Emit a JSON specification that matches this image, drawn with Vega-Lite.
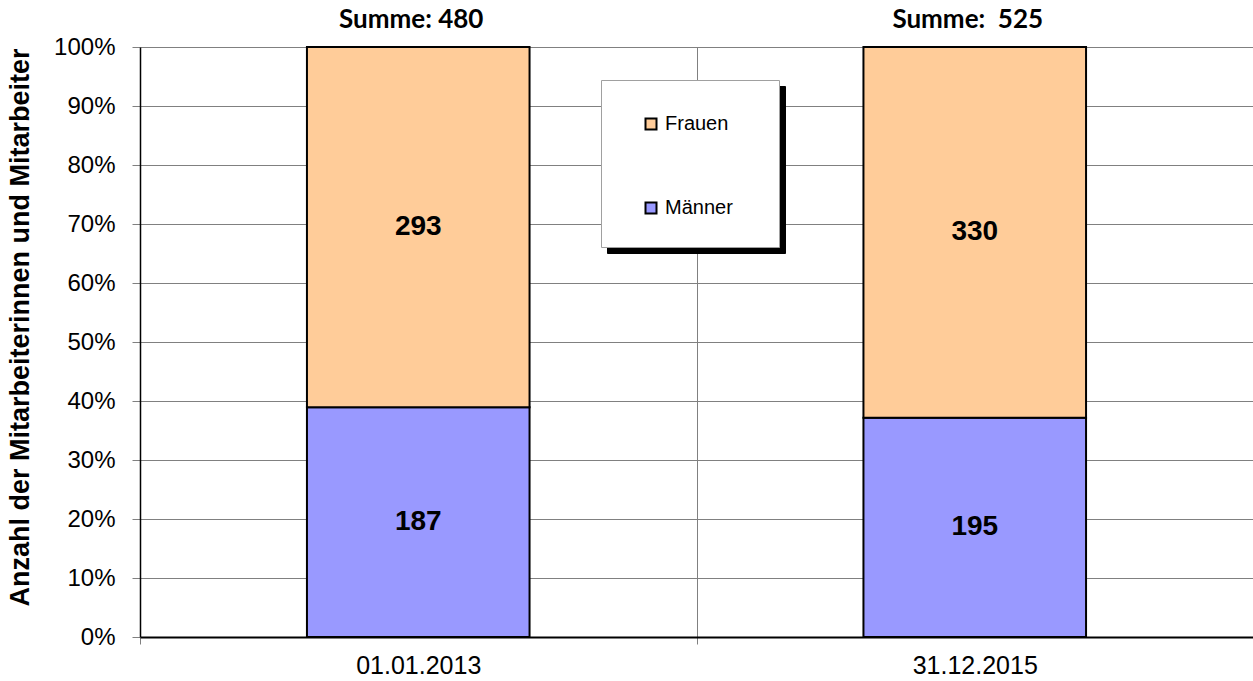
{
  "$schema": "https://vega.github.io/schema/vega-lite/v6.json",
  "width": 1113,
  "height": 590,
  "autosize": {"type": "none"},
  "padding": {"left": 140, "top": 47, "right": 0, "bottom": 44},
  "background": "white",
  "config": {
    "view": {"stroke": null},
    "font": "Liberation Sans",
    "legend": {
      "orient": "none",
      "symbolType": "square",
      "symbolSize": 121,
      "symbolStrokeWidth": 2,
      "labelFont": "Liberation Sans",
      "labelOffset": 4,
      "titleOrient": "left",
      "titleFont": "Liberation Sans",
      "titleFontSize": 19,
      "titlePadding": 8
    }
  },
  "datasets": {
    "rows": [
      {"date": "01.01.2013", "sex": "Männer", "count": 187},
      {"date": "01.01.2013", "sex": "Frauen", "count": 293},
      {"date": "31.12.2015", "sex": "Männer", "count": 195},
      {"date": "31.12.2015", "sex": "Frauen", "count": 330}
    ],
    "sums": [
      {"date": "01.01.2013", "label": "Summe: 480"},
      {"date": "31.12.2015", "label": "Summe:\u00a0 525"}
    ]
  },
  "encoding": {
    "x": {
      "field": "date",
      "type": "nominal",
      "scale": {"paddingInner": 0, "paddingOuter": 0},
      "axis": {
        "title": null,
        "labelAngle": 0,
        "labelFont": "Liberation Sans",
        "labelFontSize": 25,
        "labelColor": "black",
        "labelPadding": 9,
        "tickBand": "extent",
        "tickSize": 7,
        "tickColor": "#808080",
        "grid": true,
        "gridColor": "#808080",
        "gridWidth": 1,
        "domainColor": "black",
        "domainWidth": 2
      }
    }
  },
  "layer": [
    {
      "data": {"name": "rows"},
      "mark": {"type": "point", "opacity": 0},
      "encoding": {
        "shape": {
          "field": "sex",
          "type": "nominal",
          "scale": {"domain": ["Männer", "Frauen"], "range": ["square", "square"]},
          "legend": {
            "title": "\u00a0",
            "legendX": 467,
            "legendY": 39,
            "padding": 30,
            "rowPadding": 59,
            "labelFontSize": 24,
            "fillColor": "black",
            "strokeColor": "black",
            "symbolFillColor": "black",
            "symbolStrokeColor": "black",
            "labelColor": "black",
            "titleColor": "black",
            "zindex": 1
          }
        }
      }
    },
    {
      "data": {"name": "rows"},
      "mark": {"type": "point", "opacity": 0, "filled": true},
      "encoding": {
        "fill": {
          "field": "sex",
          "type": "nominal",
          "scale": {"domain": ["Männer", "Frauen", "–"], "range": ["white", "white", "white"]},
          "legend": {
            "title": "\u00a0",
            "values": ["Männer", "Frauen"],
            "legendX": 461,
            "legendY": 33,
            "padding": 30,
            "rowPadding": 59,
            "labelFontSize": 24,
            "fillColor": "white",
            "strokeColor": "#a0a0a0",
            "symbolType": "square",
            "symbolFillColor": "white",
            "symbolStrokeColor": "white",
            "labelColor": "white",
            "titleColor": "white",
            "zindex": 2
          }
        }
      }
    },
    {
      "data": {"name": "rows"},
      "mark": {"type": "bar", "width": {"band": 0.4}, "stroke": "black", "strokeWidth": 2},
      "encoding": {
        "y": {
          "field": "count",
          "type": "quantitative",
          "stack": "normalize",
          "scale": {"domain": [0, 1]},
          "axis": {
            "title": "Anzahl der Mitarbeiterinnen und Mitarbeiter",
            "titleFont": "Liberation Sans",
            "titleFontSize": 27,
            "titleFontWeight": "bold",
            "titleColor": "black",
            "titleX": -106,
            "titleY": 280,
            "values": [0, 0.1, 0.2, 0.3, 0.4, 0.5, 0.6, 0.7, 0.8, 0.9, 1],
            "format": ".0%",
            "labelFont": "Liberation Sans",
            "labelFontSize": 24,
            "labelColor": "black",
            "labelPadding": 17,
            "tickSize": 8,
            "tickColor": "#808080",
            "grid": true,
            "gridColor": "#808080",
            "gridWidth": 1,
            "domainColor": "black",
            "domainWidth": 1.5
          }
        },
        "order": {"field": "sex", "sort": "descending"},
        "color": {
          "field": "sex",
          "type": "nominal",
          "scale": {"domain": ["Frauen", "Männer"], "range": ["#FFCC99", "#9999FF"]},
          "legend": {
            "title": "\u00a0",
            "legendX": 461,
            "legendY": 35,
            "padding": 32,
            "rowPadding": 64,
            "labelFontSize": 20,
            "fillColor": null,
            "strokeColor": null,
            "symbolStrokeColor": "black",
            "symbolOpacity": 1,
            "labelColor": "black",
            "titleColor": "white",
            "zindex": 3
          }
        }
      }
    },
    {
      "data": {"name": "rows"},
      "transform": [
        {"stack": "count", "groupby": ["date"], "offset": "normalize", "sort": [{"field": "sex", "order": "descending"}], "as": ["y0", "y1"]},
        {"fold": ["y0", "y1"], "as": ["k", "v"]},
        {"aggregate": [{"op": "mean", "field": "v", "as": "mid"}], "groupby": ["date", "sex", "count"]}
      ],
      "mark": {"type": "text", "font": "Liberation Sans", "fontSize": 28, "fontWeight": "bold", "color": "black", "baseline": "middle"},
      "encoding": {
        "y": {"field": "mid", "type": "quantitative"},
        "text": {"field": "count", "type": "quantitative"}
      }
    },
    {
      "data": {"name": "sums"},
      "mark": {"type": "text", "font": "Lato", "fontSize": 26, "fontWeight": "bold", "color": "black", "baseline": "alphabetic", "dy": -19, "dx": -7},
      "encoding": {
        "y": {"datum": 1, "type": "quantitative"},
        "text": {"field": "label", "type": "nominal"}
      }
    }
  ]
}
